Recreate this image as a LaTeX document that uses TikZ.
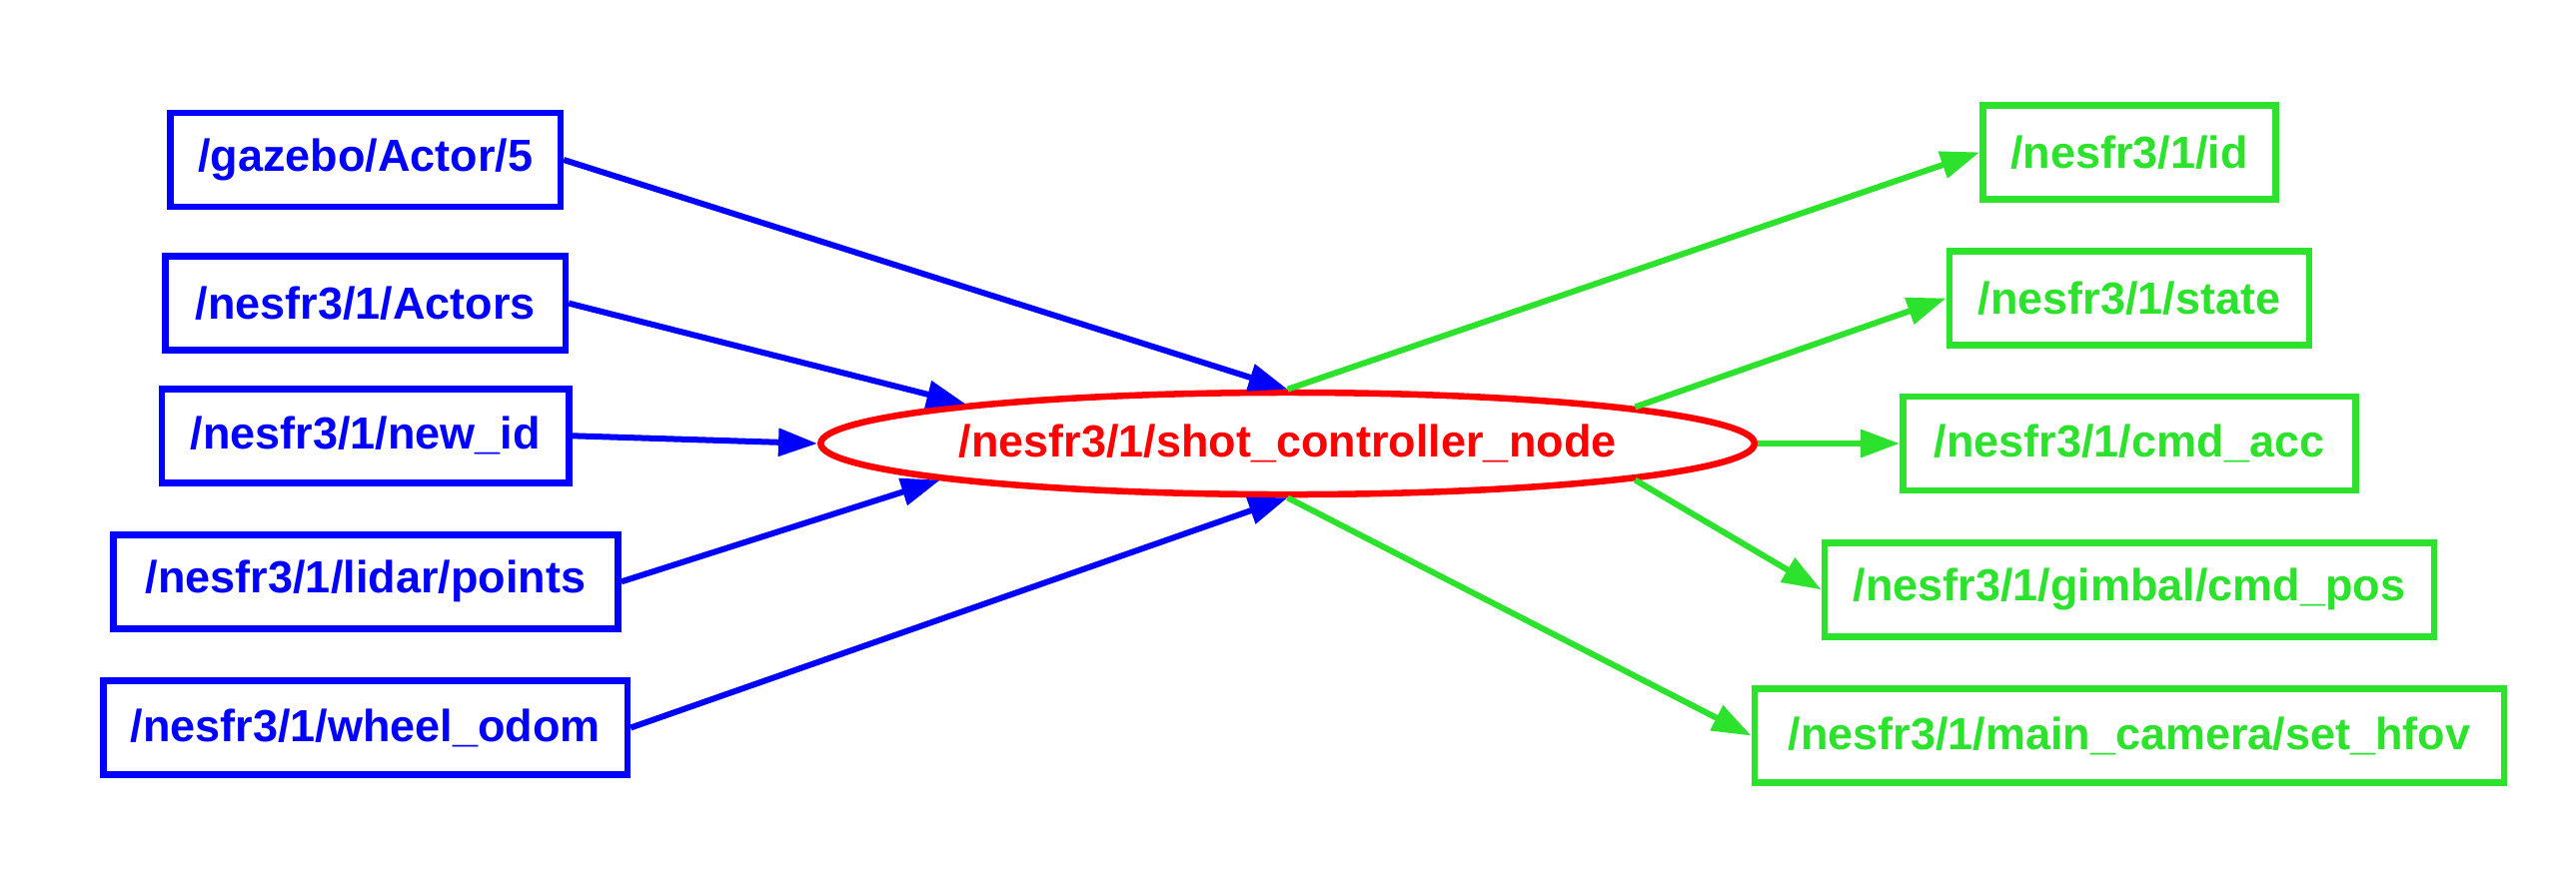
\documentclass[tikz,border=0pt]{standalone}
\usepackage{fontspec}
\setmainfont{Liberation Sans}
\usetikzlibrary{shapes.geometric,arrows.meta}
\definecolor{tgreen}{RGB}{44,226,44}
\begin{document}
\begin{tikzpicture}[x=0.01cm,y=-0.01cm,
  topic/.style={draw, rectangle, line width=0.065cm, inner sep=0pt, minimum height=0.94cm,
    font=\fontsize{12.8}{15}\selectfont\bfseries},
  inbox/.style={topic, draw=blue, text=blue},
  outbox/.style={topic, draw=tgreen, text=tgreen},
  ctlnode/.style={draw=red, text=red, ellipse, line width=0.065cm, inner sep=0pt,
    minimum width=9.34cm, minimum height=1.02cm, font=\fontsize{12.8}{15}\selectfont\bfseries},
  inedge/.style={draw=blue, line width=0.06cm, -{Triangle[length=0.39cm,width=0.27cm]}},
  outedge/.style={draw=tgreen, line width=0.06cm, -{Triangle[length=0.39cm,width=0.27cm]}}
]
\useasboundingbox (0,0) rectangle (2578,890);
\fill[white] (0,0) rectangle (2578,890);

\node[inbox, minimum width=3.90cm] (gazebo) at (365.8,160) {/gazebo/Actor/5};
\node[inbox, minimum width=4.00cm] (actors) at (365.8,303.6) {/nesfr3/1/Actors};
\node[inbox, minimum width=4.07cm] (newid) at (365.8,436.3) {/nesfr3/1/new\_id};
\node[inbox, minimum width=5.05cm] (lidar) at (366,582.3) {/nesfr3/1/lidar/points};
\node[inbox, minimum width=5.24cm] (wheel) at (365.8,728.5) {/nesfr3/1/wheel\_odom};

\node[ctlnode] (ctl) at (1288.6,444) {/nesfr3/1/shot\_controller\_node};

\node[outbox, minimum width=2.93cm] (id) at (2131,152.4) {/nesfr3/1/id};
\node[outbox, minimum width=3.60cm] (state) at (2131,298.5) {/nesfr3/1/state};
\node[outbox, minimum width=4.53cm] (cmdacc) at (2131,444) {/nesfr3/1/cmd\_acc};
\node[outbox, minimum width=6.10cm] (gimbal) at (2131,590.3) {/nesfr3/1/gimbal/cmd\_pos};
\node[outbox, minimum width=7.50cm] (hfov) at (2131,736.5) {/nesfr3/1/main\_camera/set\_hfov};

\draw[inedge] (gazebo.east) -- (ctl.north);
\draw[inedge] (actors.east) -- (ctl.173.85);
\draw[inedge] (newid.east) -- (ctl.west);
\draw[inedge] (lidar.east) -- (ctl.186.15);
\draw[inedge] (wheel.east) -- (ctl.south);

\draw[outedge] (ctl.north) -- (id.west);
\draw[outedge] (ctl.6.93) -- (state.west);
\draw[outedge] (ctl.east) -- (cmdacc.west);
\draw[outedge] (ctl.-6.93) -- (gimbal.west);
\draw[outedge] (ctl.south) -- (hfov.west);
\end{tikzpicture}
\end{document}
